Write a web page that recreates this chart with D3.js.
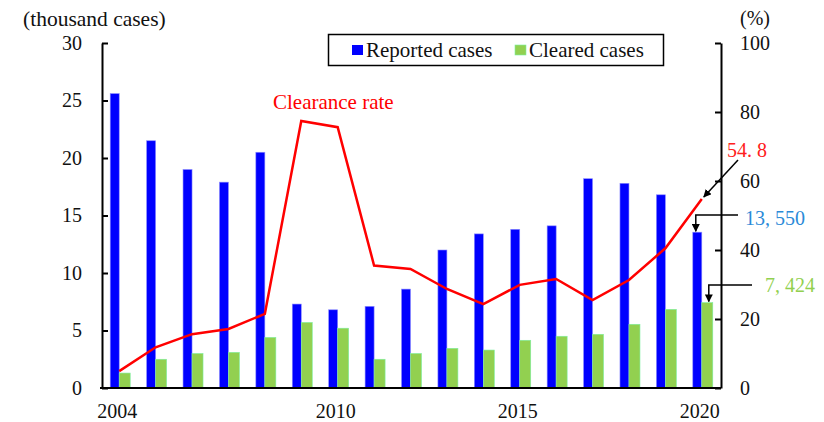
<!DOCTYPE html>
<html>
<head>
<meta charset="utf-8">
<script src="https://d3js.org/d3.v7.min.js"></script>
<style>
  body { margin: 0; background: #fff; }
  text { font-family: "Liberation Serif", "Times New Roman", serif; }
</style>
</head>
<body>
<div id="chart"></div>
<script>
// data
var years = [2004, 2005, 2006, 2007, 2008, 2009, 2010, 2011, 2012, 2013, 2014, 2015, 2016, 2017, 2018, 2019, 2020];
var reported = [25.6, 21.5, 19.0, 17.9, 20.5, 7.3, 6.8, 7.1, 8.6, 12.0, 13.4, 13.8, 14.1, 18.2, 17.8, 16.8, 13.55];
var cleared = [1.3, 2.5, 3.0, 3.1, 4.4, 5.7, 5.2, 2.5, 3.0, 3.45, 3.3, 4.15, 4.5, 4.67, 5.54, 6.84, 7.424];
var rate = [4.9, 11.8, 15.6, 17.1, 21.5, 77.4, 75.6, 35.5, 34.5, 28.7, 24.3, 29.9, 31.6, 25.5, 31.3, 40.5, 54.8];
var yearLabels = [2004, 2010, 2015, 2020];
var leftTicks = [0, 5, 10, 15, 20, 25, 30];
var rightTicks = [0, 20, 40, 60, 80, 100];

var width = 824, height = 422;
var mLeft = 102, mRight = 721, mTop = 43, mBottom = 388;

var svg = d3.select("#chart").append("svg")
    .attr("width", width)
    .attr("height", height);

var defs = svg.append("defs");
defs.append("marker")
    .attr("id", "arrow")
    .attr("viewBox", "0 0 10 10")
    .attr("refX", 9).attr("refY", 5)
    .attr("markerWidth", 8).attr("markerHeight", 8)
    .attr("markerUnits", "userSpaceOnUse")
    .attr("orient", "auto")
  .append("path")
    .attr("d", "M0,0 L10,5 L0,10 z")
    .attr("fill", "#000");

var x = d3.scaleBand().domain(years).range([mLeft, mRight]).padding(0);
var y = d3.scaleLinear().domain([0, 30]).range([mBottom, mTop]);
var yR = d3.scaleLinear().domain([0, 100]).range([mBottom, mTop]);

// point where the two bars of a year meet
function join(yr) { return x(yr) + x.bandwidth() / 2 - 1; }

// bars
svg.selectAll(".rep").data(years).enter().append("rect")
    .attr("x", function(d) { return join(d) - 9; })
    .attr("y", function(d, i) { return y(reported[i]); })
    .attr("width", 9)
    .attr("height", function(d, i) { return mBottom - y(reported[i]); })
    .attr("fill", "#0000ff")
    .attr("stroke", "#8c8cff")
    .attr("stroke-width", 0.6);

svg.selectAll(".clr").data(years).enter().append("rect")
    .attr("x", function(d) { return join(d); })
    .attr("y", function(d, i) { return y(cleared[i]); })
    .attr("width", 11)
    .attr("height", function(d, i) { return mBottom - y(cleared[i]); })
    .attr("fill", "#92d050")
    .attr("stroke", "#7cf0a0")
    .attr("stroke-width", 0.6);

// clearance rate line
var line = d3.line()
    .x(function(d, i) { return join(years[i]); })
    .y(function(d) { return yR(d); });

svg.append("path")
    .datum(rate)
    .attr("d", line)
    .attr("fill", "none")
    .attr("stroke", "#ff0000")
    .attr("stroke-width", 2.5);

// axes
var axL = svg.append("g")
    .attr("transform", "translate(" + mLeft + ",0)")
    .call(d3.axisLeft(y).tickValues(leftTicks).tickSizeInner(-6).tickSizeOuter(0).tickPadding(20));
var axR = svg.append("g")
    .attr("transform", "translate(" + mRight + ",0)")
    .call(d3.axisRight(yR).tickValues(rightTicks).tickSizeInner(-6).tickSizeOuter(0).tickPadding(19));

[axL, axR].forEach(function(g) {
  g.select(".domain").attr("stroke", "#000").attr("stroke-width", 2);
  g.selectAll(".tick line").attr("stroke", "#000").attr("stroke-width", 2);
  g.selectAll(".tick text").attr("font-family", "Liberation Serif").attr("font-size", 20).attr("fill", "#111");
});

svg.append("line")
    .attr("x1", mLeft - 2).attr("x2", mRight)
    .attr("y1", mBottom).attr("y2", mBottom)
    .attr("stroke", "#000").attr("stroke-width", 2);

svg.selectAll(".xl").data(yearLabels).enter().append("text")
    .attr("x", function(d) { return join(d) - 2; })
    .attr("y", 418)
    .attr("text-anchor", "middle")
    .attr("font-size", 20)
    .attr("fill", "#111")
    .text(function(d) { return d; });

// axis titles
svg.append("text").attr("x", 23).attr("y", 26).attr("font-size", 21.5).attr("fill", "#111").text("(thousand cases)");
svg.append("text").attr("x", 740).attr("y", 25).attr("font-size", 20).attr("fill", "#111").text("(%)");

// legend
var lg = svg.append("g");
lg.append("rect").attr("x", 328.5).attr("y", 34.5).attr("width", 335).attr("height", 31)
    .attr("fill", "#fff").attr("stroke", "#000").attr("stroke-width", 1.5);
lg.append("rect").attr("x", 352).attr("y", 45).attr("width", 11).attr("height", 10).attr("fill", "#0000ff");
lg.append("text").attr("x", 366).attr("y", 57).attr("font-size", 21).attr("fill", "#111").text("Reported cases");
lg.append("rect").attr("x", 515).attr("y", 45).attr("width", 11).attr("height", 10).attr("fill", "#92d050").attr("stroke", "#7cf0a0").attr("stroke-width", 0.6);
lg.append("text").attr("x", 529).attr("y", 57).attr("font-size", 21).attr("fill", "#111").text("Cleared cases");

// line label
svg.append("text").attr("x", 273).attr("y", 109).attr("font-size", 21).attr("fill", "#ff0000").text("Clearance rate");

// annotations for 2020
var last = years.length - 1;
var jx = join(years[last]);

svg.append("line")
    .attr("x1", 738).attr("y1", 160)
    .attr("x2", jx + 2).attr("y2", yR(rate[last]) - 2)
    .attr("stroke", "#000").attr("stroke-width", 1.5)
    .attr("marker-end", "url(#arrow)");
svg.append("text").attr("x", 727).attr("y", 157).attr("font-size", 20).attr("fill", "#ff2020").text("54. 8");

svg.append("path")
    .attr("d", "M738," + 215 + "H" + (jx - 6) + "V" + (y(reported[last]) - 1))
    .attr("fill", "none").attr("stroke", "#000").attr("stroke-width", 1.5)
    .attr("marker-end", "url(#arrow)");
svg.append("text").attr("x", 745).attr("y", 225).attr("font-size", 20).attr("fill", "#2a8ad8").text("13, 550");

svg.append("path")
    .attr("d", "M752," + 285 + "H" + (jx + 7) + "V" + (y(cleared[last]) - 1))
    .attr("fill", "none").attr("stroke", "#000").attr("stroke-width", 1.5)
    .attr("marker-end", "url(#arrow)");
svg.append("text").attr("x", 765).attr("y", 292).attr("font-size", 20).attr("fill", "#92d050").text("7, 424");
</script>
</body>
</html>
